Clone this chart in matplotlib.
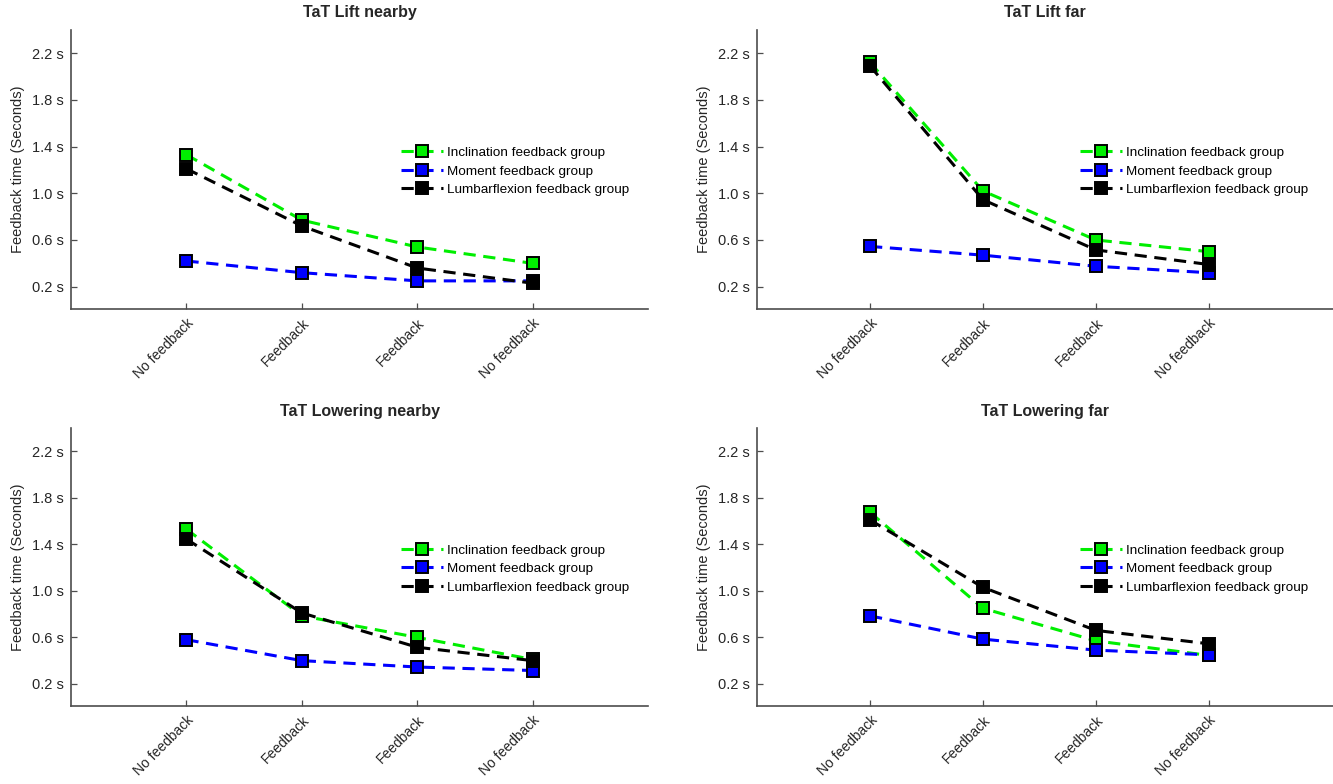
import matplotlib
matplotlib.use("Agg")
from matplotlib import pyplot as plt

plt.rcParams['font.family'] = ['Liberation Sans', 'DejaVu Sans']

conditions = ["No feedback", "Feedback", "Feedback", "No feedback"]
groups = ["Inclination feedback group", "Moment feedback group", "Lumbarflexion feedback group"]
group_colors = ["#00ee00", "#0000ff", "#000000"]
y_ticks = [0.2, 0.6, 1.0, 1.4, 1.8, 2.2]
y_tick_labels = ["0.2 s", "0.6 s", "1.0 s", "1.4 s", "1.8 s", "2.2 s"]

titles = ["TaT Lift nearby", "TaT Lift far", "TaT Lowering nearby", "TaT Lowering far"]

# values per panel: inclination, moment, lumbarflexion
lift_nearby_incl = [1.33, 0.77, 0.54, 0.40]
lift_nearby_moment = [0.42, 0.32, 0.25, 0.25]
lift_nearby_lumbar = [1.21, 0.72, 0.36, 0.23]

lift_far_incl = [2.12, 1.02, 0.60, 0.50]
lift_far_moment = [0.545, 0.47, 0.375, 0.32]
lift_far_lumbar = [2.09, 0.945, 0.515, 0.39]

lowering_nearby_incl = [1.53, 0.785, 0.60, 0.41]
lowering_nearby_moment = [0.58, 0.40, 0.345, 0.315]
lowering_nearby_lumbar = [1.445, 0.81, 0.515, 0.40]

lowering_far_incl = [1.675, 0.85, 0.57, 0.445]
lowering_far_moment = [0.785, 0.585, 0.49, 0.45]
lowering_far_lumbar = [1.61, 1.03, 0.66, 0.545]

panels = [
    [lift_nearby_incl, lift_nearby_moment, lift_nearby_lumbar],
    [lift_far_incl, lift_far_moment, lift_far_lumbar],
    [lowering_nearby_incl, lowering_nearby_moment, lowering_nearby_lumbar],
    [lowering_far_incl, lowering_far_moment, lowering_far_lumbar],
]

# left panels end at x=5, right panels run off the figure edge
positions = [
    [0.0533, 0.606, 0.4329, 0.356],
    [0.568, 0.606, 0.432, 0.356],
    [0.0533, 0.0995, 0.4329, 0.3545],
    [0.568, 0.0995, 0.432, 0.3545],
]
x_max = [5.0, 5.1, 5.0, 5.1]
legend_x = [0.556, 0.544, 0.556, 0.544]

fig = plt.figure(figsize=(13.33, 7.84), dpi=100)
x = [1, 2, 3, 4]
for p, (series, pos) in enumerate(zip(panels, positions)):
    ax = fig.add_axes(pos)
    for values, name, color in zip(series, groups, group_colors):
        ax.plot(x, values, linestyle=(0, (4, 2.5)), linewidth=2.2, color=color,
                marker='s', markersize=9, markerfacecolor=color,
                markeredgecolor='black', markeredgewidth=1.4, label=name)
    ax.set_xlim(0, x_max[p])
    ax.set_ylim(0.01, 2.4)
    ax.set_xticks(x)
    ax.set_xticklabels(conditions, rotation=45, ha='right', rotation_mode='anchor',
                       fontsize=10, color='#262626')
    ax.set_yticks(y_ticks)
    ax.set_yticklabels(y_tick_labels, fontsize=10.5, color='#262626')
    ax.tick_params(direction='in', length=4, width=0.9, colors='#4d4d4d', pad=5,
                   labelcolor='#262626')
    ax.set_ylabel("Feedback time (Seconds)", fontsize=10.5, color='#262626', labelpad=5)
    ax.set_title(titles[p], fontsize=11.5, fontweight='bold', color='#262626', pad=9)
    for side in ['top', 'right']:
        ax.spines[side].set_visible(False)
    for side in ['left', 'bottom']:
        ax.spines[side].set_color('#4d4d4d')
        ax.spines[side].set_linewidth(1.2)
    ax.legend(loc='center left', bbox_to_anchor=(legend_x[p], 0.493), frameon=False,
              fontsize=9.7, handlelength=3.1, handletextpad=0.3, labelspacing=0.44,
              borderpad=0.2)

fig.savefig("out.png", dpi=100)
plt.close(fig)
